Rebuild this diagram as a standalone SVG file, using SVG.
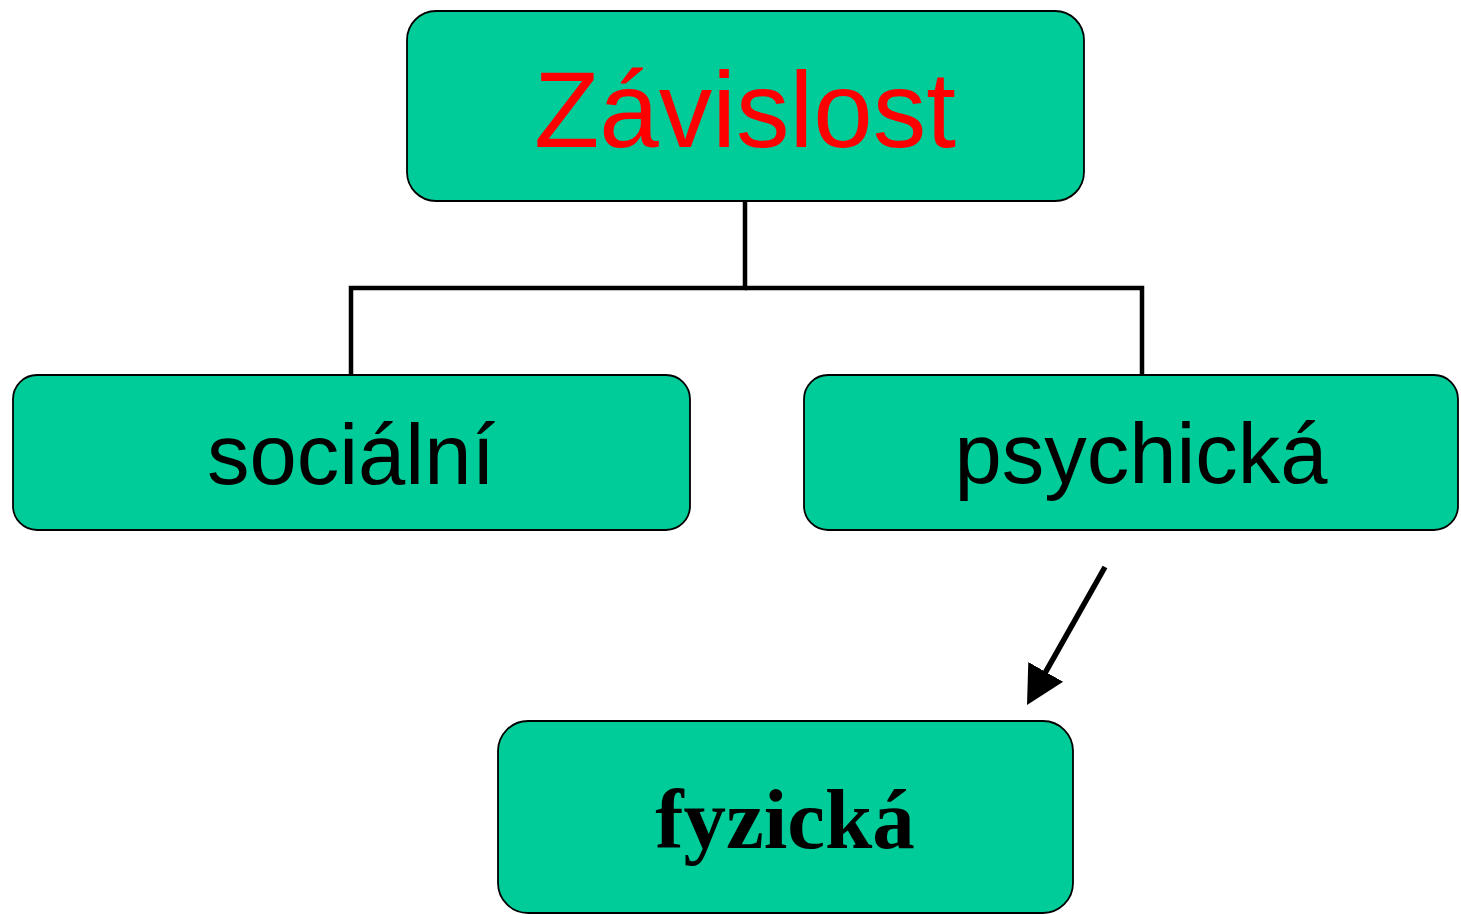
<svg xmlns="http://www.w3.org/2000/svg" width="1461" height="914" viewBox="0 0 1461 914">
<style>
.box{fill:#00CC99;stroke:#000;stroke-width:1.8}
.lbl{font-family:"Liberation Sans",Arial,sans-serif;fill:#000;text-anchor:middle}
.con{fill:none;stroke:#000;stroke-width:4.5}
.arr{fill:none;stroke:#000;stroke-width:5.5}
</style>
<defs>
<marker id="ah" markerUnits="userSpaceOnUse" markerWidth="40" markerHeight="42" viewBox="0 0 40 42" refX="12" refY="21" orient="auto">
<path d="M0,1 L38,21 L0,41 z" fill="#000"/>
</marker>
</defs>
<rect width="1461" height="914" fill="#fff"/>
<g id="connectors">
<polyline class="con" points="745,201 745,288 351,288 351,375"/>
<polyline class="con" points="745,288 1142,288 1142,375"/>
<line class="arr" x1="1105" y1="567" x2="1039.8" y2="682.4" marker-end="url(#ah)"/>
</g>
<g id="zavislost">
<rect class="box" x="407" y="11" width="677" height="190" rx="29" ry="29"/>
<text class="lbl" x="745" y="147" font-size="107" style="fill:#FF0000">Závislost</text>
</g>
<g id="socialni">
<rect class="box" x="13" y="375" width="677" height="155" rx="24" ry="24"/>
<text class="lbl" x="351" y="484" font-size="85">sociální</text>
</g>
<g id="psychicka">
<rect class="box" x="804" y="375" width="654" height="155" rx="24" ry="24"/>
<text class="lbl" x="1141" y="483" font-size="85">psychická</text>
</g>
<g id="fyzicka">
<rect class="box" x="498" y="721" width="575" height="192" rx="30" ry="30"/>
<text x="785" y="848" font-size="85" font-weight="bold" text-anchor="middle" font-family="'Liberation Serif','Times New Roman',serif" fill="#000">fyzická</text>
</g>
</svg>
